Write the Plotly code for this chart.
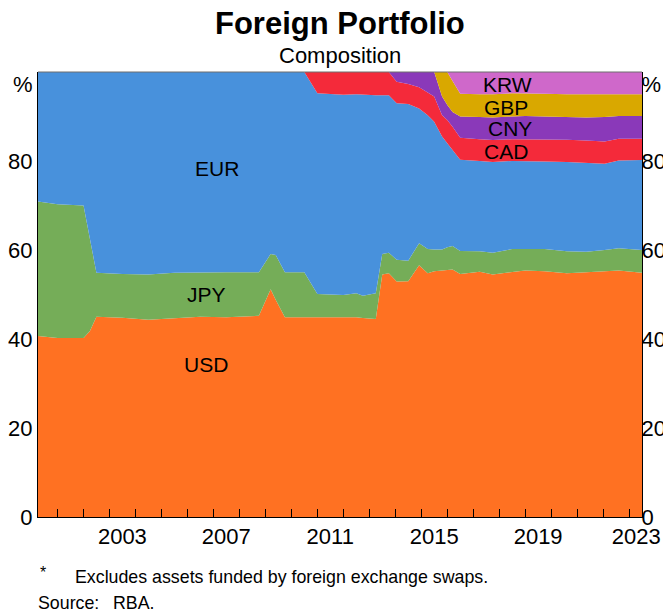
"""Foreign Portfolio composition - stacked area, RBA style."""
import plotly.graph_objects as go

dates = [
    "2000-04-01", "2001-01-01", "2002-01-01", "2002-04-01", "2002-07-01",
    "2003-07-01", "2004-07-01", "2005-07-01", "2006-07-01", "2007-07-01",
    "2008-10-01", "2009-03-15", "2009-05-25", "2009-10-01", "2010-07-01",
    "2011-01-01", "2012-01-01", "2012-07-01", "2012-10-01", "2013-04-01",
    "2013-07-01", "2013-10-01", "2014-01-20", "2014-07-01", "2014-12-01",
    "2015-04-01", "2015-07-01", "2015-10-20", "2016-01-01", "2016-03-15",
    "2016-07-01", "2017-04-01", "2017-10-01", "2018-07-01", "2019-01-01",
    "2019-10-01", "2020-08-07", "2021-05-08", "2022-01-20", "2022-08-07",
    "2023-06-30",
]

usd = [40.7, 40.2, 40.2, 41.8, 45.0, 44.8, 44.3, 44.6, 45.0, 44.9,
       45.2, 51.2, 48.8, 44.9, 44.8, 44.9, 44.9, 44.9, 44.7, 44.5,
       54.5, 54.8, 52.9, 53.0, 56.6, 54.8, 55.2, 55.4, 55.5, 55.6,
       54.6, 55.1, 54.5, 55.0, 55.4, 55.2, 54.8, 55.0, 55.2, 55.4,
       54.9]
jpy = [30.2, 30.1, 29.8, 20.7, 9.9, 9.8, 10.2, 10.3, 10.0, 10.1,
       9.8, 7.9, 10.1, 10.1, 10.2, 5.2, 5.0, 5.4, 5.0, 5.8,
       4.6, 4.6, 4.9, 4.6, 4.9, 5.4, 4.9, 4.7, 5.1, 5.3,
       5.2, 4.6, 4.9, 5.2, 4.8, 5.0, 4.9, 4.6, 4.8, 5.0,
       5.1]
eur = [29.1, 29.7, 30.0, 37.5, 45.1, 45.4, 45.5, 45.1, 45.0, 45.0,
       45.0, 40.9, 41.1, 45.0, 45.0, 45.1, 45.0, 44.7, 45.2, 44.5,
       35.7, 35.4, 35.2, 35.2, 30.3, 30.1, 28.7, 25.4, 23.4, 21.6,
       20.5, 20.3, 20.4, 19.8, 19.8, 19.7, 20.1, 20.0, 19.4, 19.7,
       20.2]
cad = [0, 0, 0, 0, 0, 0, 0, 0, 0, 0,
       0, 0, 0, 0, 0, 4.8, 5.1, 5.0, 5.1, 5.2,
       5.2, 5.2, 4.8, 4.5, 4.8, 5.2, 5.7, 4.8, 5.2, 5.2,
       4.9, 4.9, 4.9, 4.9, 4.9, 4.9, 5.0, 5.0, 5.0, 4.9,
       4.8]
cny = [0, 0, 0, 0, 0, 0, 0, 0, 0, 0,
       0, 0, 0, 0, 0, 0, 0, 0, 0, 0,
       0, 0, 2.2, 2.7, 3.4, 4.5, 5.5, 4.2, 3.4, 3.3,
       4.8, 5.0, 5.1, 5.1, 5.2, 5.2, 5.1, 5.2, 5.5, 5.1,
       5.1]
gbp = [0, 0, 0, 0, 0, 0, 0, 0, 0, 0,
       0, 0, 0, 0, 0, 0, 0, 0, 0, 0,
       0, 0, 0, 0, 0, 0, 0, 5.5, 7.4, 7.0,
       5.1, 5.1, 5.2, 5.2, 5.1, 5.1, 5.1, 5.2, 5.1, 5.0,
       4.9]
krw = [0, 0, 0, 0, 0, 0, 0, 0, 0, 0,
       0, 0, 0, 0, 0, 0, 0, 0, 0, 0,
       0, 0, 0, 0, 0, 0, 0, 0, 0, 2.0,
       4.9, 5.0, 5.0, 4.8, 4.8, 4.9, 5.0, 5.0, 5.0, 4.9,
       5.0]

series = [
    ("USD", usd, "#ff7122"),
    ("JPY", jpy, "#75ad58"),
    ("EUR", eur, "#4891dc"),
    ("CAD", cad, "#f42a3a"),
    ("CNY", cny, "#8a39b9"),
    ("GBP", gbp, "#d9a800"),
    ("KRW", krw, "#cf68ca"),
]

# label positions (date, %) for the series names
labels = [
    ("USD", "2006-09-13", 34.2),
    ("JPY", "2006-09-27", 49.9),
    ("EUR", "2007-02-17", 78.4),
    ("CAD", "2018-04-12", 82.2),
    ("CNY", "2018-05-26", 87.2),
    ("GBP", "2018-04-12", 92.1),
    ("KRW", "2018-04-22", 97.1),
]

year_labels = ["2003", "2007", "2011", "2015", "2019", "2023"]
year_label_pos = ["2003-07-01", "2007-07-01", "2011-07-01", "2015-07-01",
                  "2019-07-01", "2023-04-10"]
year_ticks = [f"{y}-01-01" for y in range(2001, 2024)]

y_vals = [0, 20, 40, 60, 80, 97.3]
y_text = ["0", "20", "40", "60", "80", "%"]

FONT = "Liberation Sans, Arial, sans-serif"

fig = go.Figure()
for name, vals, color in series:
    fig.add_trace(go.Scatter(
        x=dates, y=vals, name=name, stackgroup="one", mode="lines",
        line=dict(width=0, color=color), fillcolor=color,
        hovertemplate=name + ": %{y:.1f}%<extra></extra>",
    ))

# empty trace so the right-hand axis gets drawn
fig.add_trace(go.Scatter(x=[dates[0]], y=[0], yaxis="y2", mode="none",
                         showlegend=False, hoverinfo="skip"))

for name, d, v in labels:
    fig.add_annotation(x=d, y=v, text=name, showarrow=False,
                       font=dict(size=21, color="black", family=FONT))

yax = dict(range=[0, 100], tickvals=y_vals, ticktext=y_text, ticks="",
           showgrid=False, zeroline=False, showline=True, linecolor="black",
           linewidth=1, tickfont=dict(size=22, color="black", family=FONT),
           fixedrange=True, automargin=False)

# page body adds an 8px margin, so the figure is sized to fill the rest
fig.update_layout(
    width=663, height=603,
    margin=dict(l=30, r=29, t=64, b=94),
    paper_bgcolor="white", plot_bgcolor="white",
    showlegend=False,
    font=dict(family=FONT, color="black"),
    xaxis=dict(
        type="date", range=["2000-04-01", "2023-06-30"],
        tickvals=year_label_pos, ticktext=year_labels, ticks="",
        showgrid=False, zeroline=False, showline=True, linecolor="black",
        linewidth=1, tickfont=dict(size=22, color="black", family=FONT),
        automargin=False,
        minor=dict(tickvals=year_ticks, ticks="inside", ticklen=8,
                   tickcolor="black", tickwidth=1, showgrid=False),
    ),
    yaxis=yax,
    yaxis2=dict(yax, overlaying="y", side="right", ticklen=0,
                ticklabelstandoff=-6),
)

fig.add_shape(type="line", xref="paper", yref="paper", x0=0, x1=1, y0=1, y1=1,
              line=dict(color="#6e6e6e", width=1))

fig.add_annotation(text="<b>Foreign Portfolio</b>", xref="paper", yref="paper",
                   x=0.5, y=1, yanchor="middle", yshift=49, showarrow=False,
                   font=dict(size=31, family=FONT, color="black"))
fig.add_annotation(text="Composition", xref="paper", yref="paper",
                   x=0.5, y=1, yanchor="middle", yshift=17, showarrow=False,
                   font=dict(size=22, family=FONT, color="black"))

fig.add_annotation(text="*", xref="paper", yref="paper", x=0, y=0, xshift=0,
                   yanchor="middle", yshift=-55, xanchor="left",
                   showarrow=False,
                   font=dict(size=16, family=FONT, color="black"))
fig.add_annotation(text="Excludes assets funded by foreign exchange swaps.",
                   xref="paper", yref="paper", x=0, y=0, xshift=35,
                   yanchor="middle", yshift=-60, xanchor="left",
                   showarrow=False,
                   font=dict(size=17.8, family=FONT, color="black"))
fig.add_annotation(text="Source:", xref="paper", yref="paper", x=0, y=0,
                   xshift=-2, yanchor="middle", yshift=-85, xanchor="left",
                   height=19, showarrow=False,
                   font=dict(size=17.8, family=FONT, color="black"))
fig.add_annotation(text="RBA.", xref="paper", yref="paper", x=0, y=0,
                   xshift=73, yanchor="middle", yshift=-85, xanchor="left",
                   height=19, showarrow=False,
                   font=dict(size=17.8, family=FONT, color="black"))

fig.write_html("out.html")
